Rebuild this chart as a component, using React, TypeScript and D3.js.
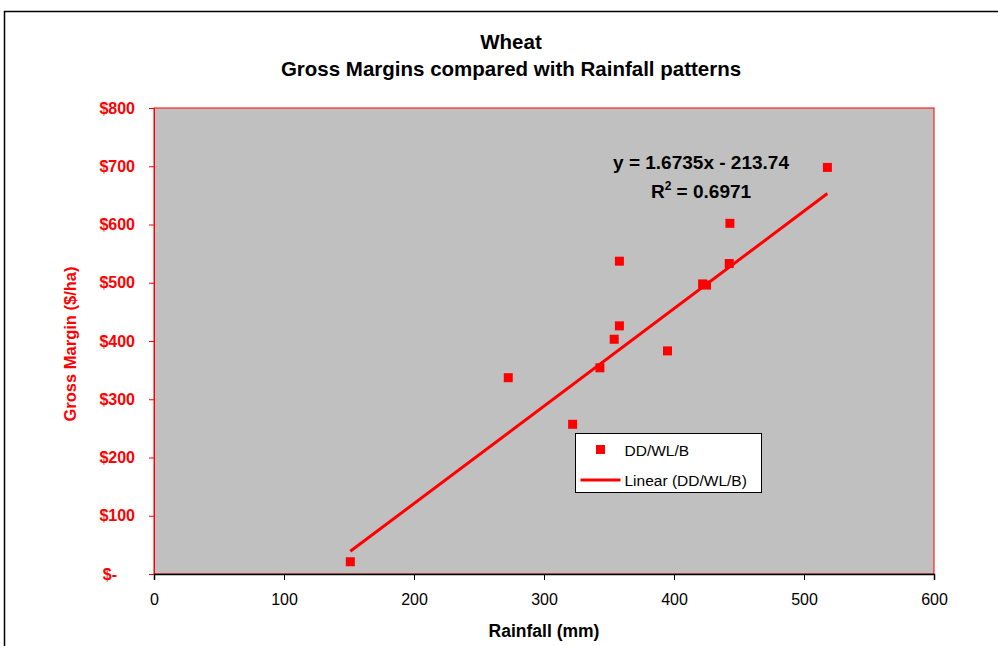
import React, { useRef, useEffect } from 'react';
import * as d3 from 'd3';

// rainfall (mm) and gross margin ($/ha) for DD/WL/B
const rainfall = [151, 272.5, 322, 343, 354, 358, 358, 395, 422, 425, 442.5, 443, 518];
const grossMargin = [21, 337, 257, 354, 403, 426, 537, 383, 498, 496, 533, 602, 698];

const xTicks = [0, 100, 200, 300, 400, 500, 600];
const yTicks = [0, 100, 200, 300, 400, 500, 600, 700, 800];

// linear trendline as shown on the chart
const slope = 1.6735;
const intercept = -213.74;
const rSquared = 0.6971;

const seriesName = 'DD/WL/B';

const App = () => {
  const ref = useRef<SVGSVGElement | null>(null);

  const width = 998;
  const height = 646;

  useEffect(() => {
    if (!ref.current) return;

    const font = '"Liberation Sans", Arial, sans-serif';
    const red = '#ff0000';

    const x = d3.scaleLinear().domain([0, 600]).range([154, 934]);
    const y = d3.scaleLinear().domain([0, 800]).range([574, 108]);

    const svg = d3.select(ref.current);
    svg.selectAll('*').remove();

    // chart frame
    svg
      .append('rect')
      .attr('x', 4.5)
      .attr('y', 11.5)
      .attr('width', 1000)
      .attr('height', 700)
      .attr('fill', '#fff')
      .attr('stroke', '#000')
      .attr('stroke-width', 1.5);

    // plot area
    svg
      .append('rect')
      .attr('x', x(0))
      .attr('y', y(800))
      .attr('width', x(600) - x(0))
      .attr('height', y(0) - y(800))
      .attr('fill', '#c0c0c0')
      .attr('stroke', red);

    // titles
    const title = svg
      .append('text')
      .attr('text-anchor', 'middle')
      .attr('font-family', font)
      .attr('font-weight', 'bold')
      .attr('font-size', 20.5);
    title.append('tspan').attr('x', 511).attr('y', 49).text('Wheat');
    title
      .append('tspan')
      .attr('x', 511)
      .attr('y', 76)
      .text('Gross Margins compared with Rainfall patterns');

    // y axis
    const yAxis = svg
      .append('g')
      .attr('transform', `translate(${x(0)},0)`)
      .call(
        d3
          .axisLeft(y)
          .tickValues(yTicks)
          .tickSize(5)
          .tickFormat((d: any) => (d === 0 ? '$-' : `$${d}`))
      );
    yAxis.select('.domain').attr('stroke', red);
    yAxis.selectAll('line').attr('stroke', red);
    yAxis
      .selectAll('text')
      .attr('fill', red)
      .attr('font-size', 16)
      .attr('font-weight', 'bold')
      .attr('font-family', font)
      .attr('x', (d: any) => (d === 0 ? -37 : -19));

    // x axis
    const xAxis = svg
      .append('g')
      .attr('transform', `translate(0,${y(0)})`)
      .call(d3.axisBottom(x).tickValues(xTicks).tickSize(6).tickFormat((d: any) => `${d}`));
    xAxis.select('.domain').attr('stroke', '#000').attr('stroke-width', 1.5);
    xAxis.selectAll('line').attr('stroke', '#000');
    xAxis
      .selectAll('text')
      .attr('fill', '#000')
      .attr('font-size', 16)
      .attr('font-family', font)
      .attr('y', 20);

    // axis titles
    svg
      .append('text')
      .attr('x', 544)
      .attr('y', 637)
      .attr('text-anchor', 'middle')
      .attr('font-family', font)
      .attr('font-weight', 'bold')
      .attr('font-size', 17.5)
      .text('Rainfall (mm)');

    svg
      .append('text')
      .attr('transform', 'translate(76,344) rotate(-90)')
      .attr('text-anchor', 'middle')
      .attr('font-family', font)
      .attr('font-weight', 'bold')
      .attr('font-size', 16.5)
      .attr('fill', red)
      .text('Gross Margin ($/ha)');

    // trendline
    const [xMin, xMax] = d3.extent(rainfall) as [number, number];
    svg
      .append('line')
      .attr('x1', x(xMin))
      .attr('y1', y(slope * xMin + intercept))
      .attr('x2', x(xMax))
      .attr('y2', y(slope * xMax + intercept))
      .attr('stroke', red)
      .attr('stroke-width', 3);

    // points
    const size = 9;
    svg
      .append('g')
      .selectAll('rect')
      .data(rainfall.map((r, i) => [r, grossMargin[i]]))
      .join('rect')
      .attr('x', (d) => x(d[0]) - size / 2)
      .attr('y', (d) => y(d[1]) - size / 2)
      .attr('width', size)
      .attr('height', size)
      .attr('fill', red);

    // equation
    const eq = svg
      .append('text')
      .attr('text-anchor', 'middle')
      .attr('font-family', font)
      .attr('font-weight', 'bold')
      .attr('font-size', 19);
    eq.append('tspan')
      .attr('x', 701)
      .attr('y', 169)
      .text(`y = ${slope}x - ${Math.abs(intercept)}`);
    const r2 = eq.append('tspan').attr('x', 701).attr('y', 198);
    r2.append('tspan').text('R');
    r2.append('tspan').attr('font-size', 12).attr('dy', -8).text('2');
    r2.append('tspan').attr('dy', 8).text(` = ${rSquared}`);

    // legend
    const legend = svg.append('g').attr('transform', 'translate(575.5,433.5)');
    legend
      .append('rect')
      .attr('width', 186)
      .attr('height', 59)
      .attr('fill', '#fff')
      .attr('stroke', '#000');
    legend
      .append('rect')
      .attr('x', 25 - size / 2)
      .attr('y', 16 - size / 2)
      .attr('width', size)
      .attr('height', size)
      .attr('fill', red);
    legend
      .append('line')
      .attr('x1', 5)
      .attr('x2', 45)
      .attr('y1', 46.5)
      .attr('y2', 46.5)
      .attr('stroke', red)
      .attr('stroke-width', 3);
    legend
      .selectAll('text.item')
      .data([seriesName, `Linear (${seriesName})`])
      .join('text')
      .attr('class', 'item')
      .attr('x', 49)
      .attr('y', (_, i) => 22 + i * 30)
      .attr('font-family', font)
      .attr('font-size', 15.5)
      .text((d) => d);
  });

  return (
    <svg
      ref={ref}
      width={width}
      height={height}
      viewBox={`0 0 ${width} ${height}`}
      style={{ position: 'absolute', left: 0, top: 0, background: '#fff' }}
    />
  );
};

export default App;
